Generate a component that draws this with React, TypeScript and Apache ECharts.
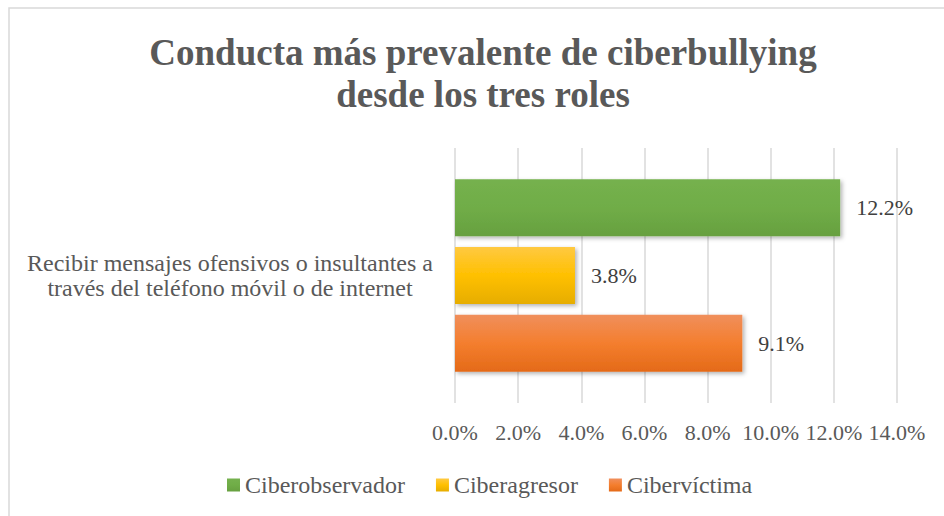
import React, { useEffect, useRef } from "react";
import * as echarts from "echarts";

const titleLines = ["Conducta más prevalente de ciberbullying", "desde los tres roles"];
const categories = ["Recibir mensajes ofensivos o insultantes a\ntravés del teléfono móvil o de internet"];
const seriesNames = ["Ciberobservador", "Ciberagresor", "Cibervíctima"];
const ciberobservador = [12.2];
const ciberagresor = [3.8];
const cibervictima = [9.1];
const axisMin = 0;
const axisMax = 14;
const axisInterval = 2;

const FONT = "'Liberation Serif', 'Times New Roman', serif";

function grad(top: string, mid: string, bottom: string) {
  return new echarts.graphic.LinearGradient(0, 0, 0, 1, [
    { offset: 0, color: top },
    { offset: 0.5, color: mid },
    { offset: 1, color: bottom },
  ]);
}

export default function App() {
  const ref = useRef<HTMLDivElement>(null);
  useEffect(() => {
    if (!ref.current) return;
    const chart = echarts.init(ref.current, undefined, { renderer: "svg" });
    const shadow = {
      shadowBlur: 4,
      shadowOffsetX: 2,
      shadowOffsetY: 2,
      shadowColor: "rgba(0,0,0,0.3)",
    };
    const label = {
      show: true,
      position: "right",
      distance: 16,
      formatter: (p: any) => Number(p.value).toFixed(1) + "%",
      fontFamily: FONT,
      fontSize: 22,
      color: "#404040",
    };
    const colors = [
      grad("#75b14e", "#70ad47", "#67a040"),
      grad("#ffc941", "#ffc000", "#e6ad00"),
      grad("#f08f5c", "#f47e2e", "#e46a18"),
    ];
    const datas = [ciberobservador, ciberagresor, cibervictima];
    chart.setOption({
      animation: false,
      backgroundColor: "#ffffff",
      title: {
        text: titleLines.join("\n"),
        left: 483,
        top: 31,
        padding: 0,
        textAlign: "center",
        textStyle: {
          fontFamily: FONT,
          fontWeight: "bold",
          fontSize: 37,
          lineHeight: 42,
          color: "#595959",
        },
      },
      graphic: [
        {
          type: "rect",
          shape: { x: 9, y: 8, width: 1200, height: 800 },
          style: { fill: "none", stroke: "#d9d9d9", lineWidth: 1.5 },
          silent: true,
        },
      ],
      legend: {
        data: seriesNames,
        left: 227,
        top: 473,
        padding: 0,
        icon: "rect",
        itemWidth: 13,
        itemHeight: 13,
        itemGap: 31,
        textStyle: { fontFamily: FONT, fontSize: 24, color: "#595959" },
      },
      grid: { left: 455, right: 47, top: 148, bottom: 113, containLabel: false },
      xAxis: {
        type: "value",
        min: axisMin,
        max: axisMax,
        interval: axisInterval,
        axisLine: { show: false },
        axisTick: { show: false },
        splitLine: { show: true, lineStyle: { color: "#d9d9d9", width: 1.5 } },
        axisLabel: {
          formatter: (v: number) => v.toFixed(1) + "%",
          fontFamily: FONT,
          fontSize: 22,
          color: "#595959",
          margin: 18,
        },
      },
      yAxis: {
        type: "category",
        data: categories,
        inverse: true,
        axisLine: { show: false },
        axisTick: { show: false },
        axisLabel: {
          align: "center",
          margin: 225,
          fontFamily: FONT,
          fontSize: 24,
          lineHeight: 25,
          color: "#595959",
        },
      },
      series: seriesNames.map((name, i) => ({
        name,
        type: "bar",
        data: datas[i],
        barWidth: 57,
        barGap: "19%",
        itemStyle: { color: colors[i], ...shadow },
        label,
      })),
    });
    return () => chart.dispose();
  }, []);
  return (
    <div
      ref={ref}
      style={{ position: "fixed", left: 0, top: 0, width: 944, height: 516 }}
    />
  );
}
